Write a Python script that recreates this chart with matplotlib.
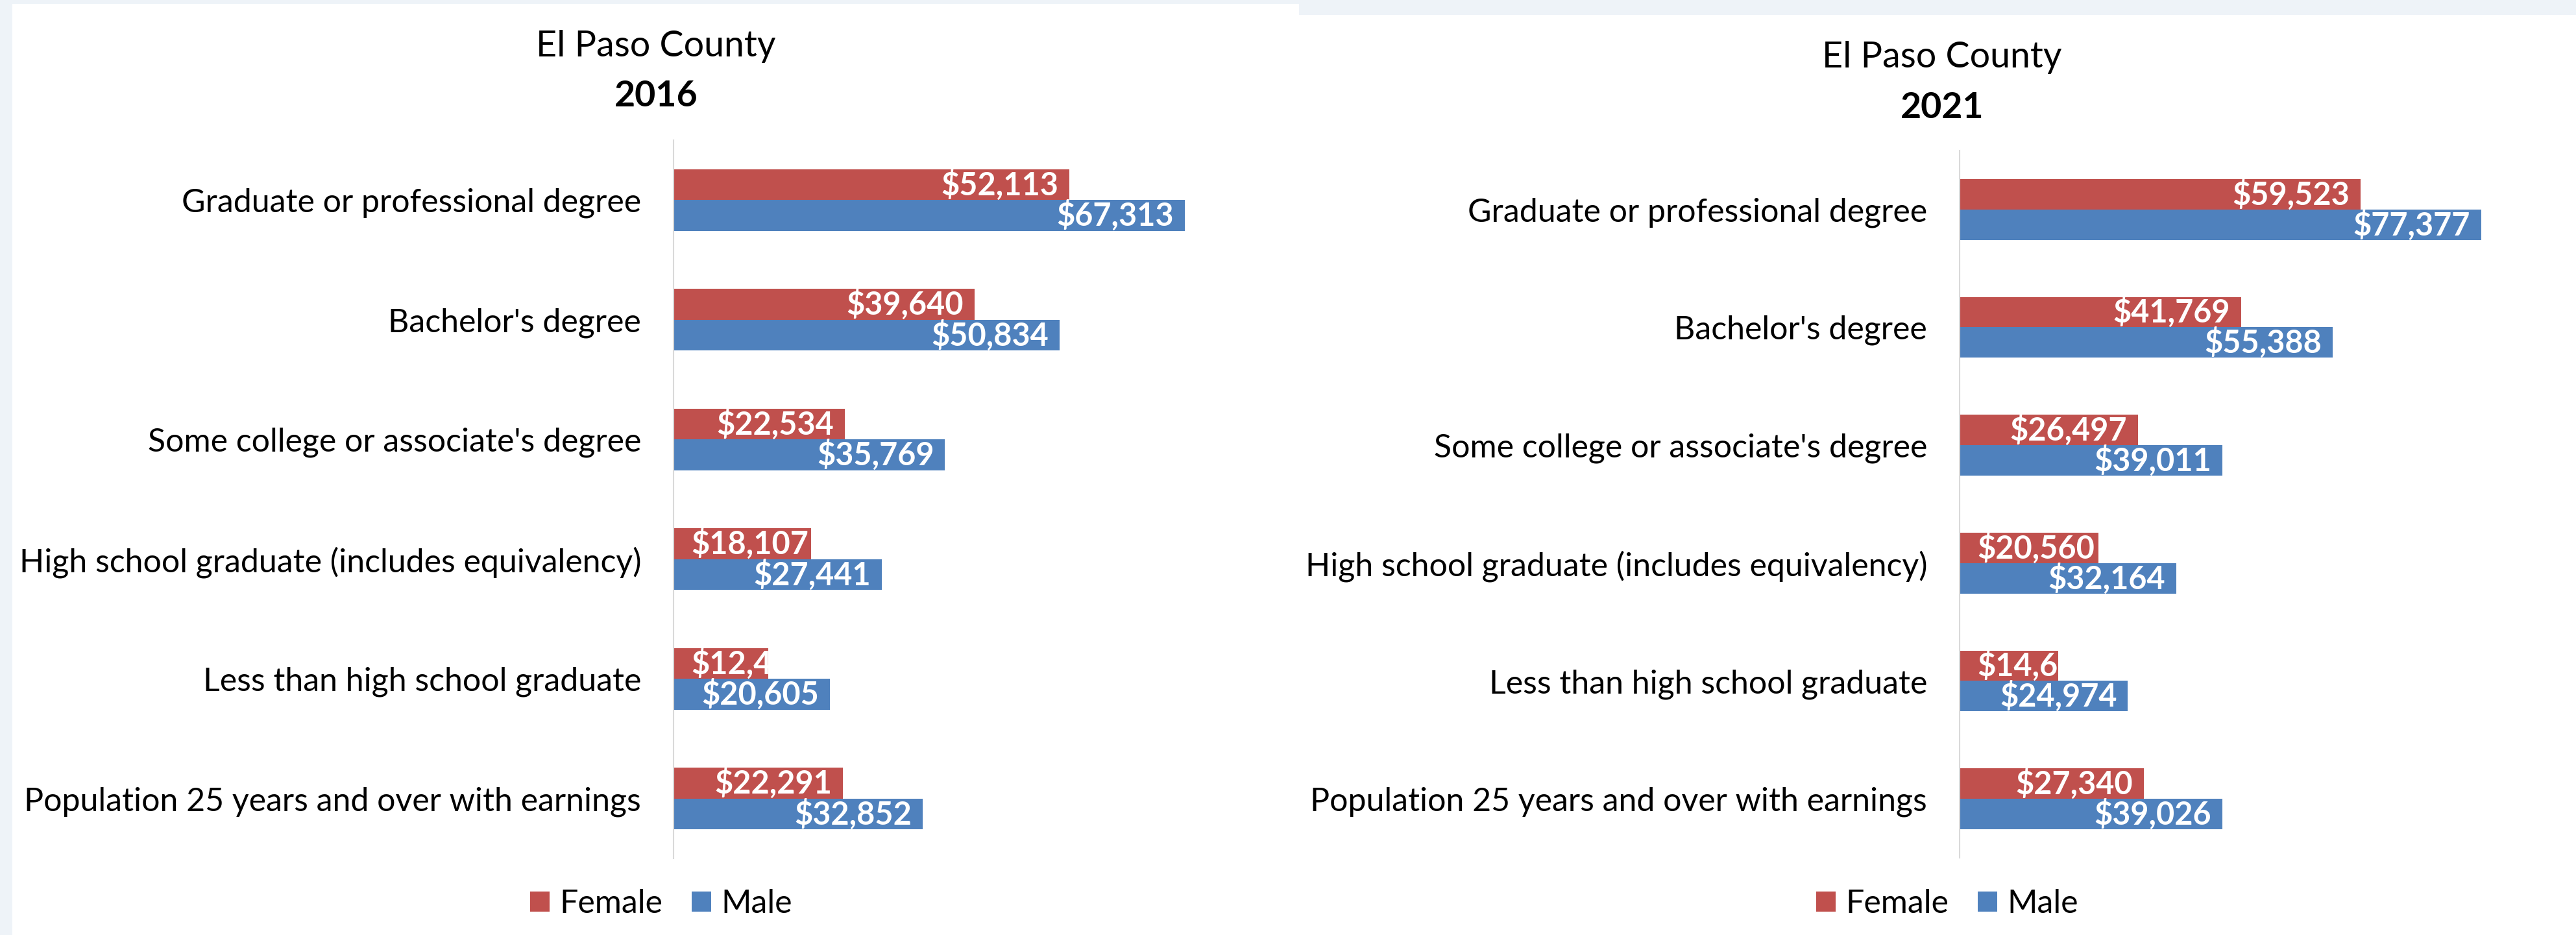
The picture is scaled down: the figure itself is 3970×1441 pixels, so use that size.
import numpy as np
import matplotlib
matplotlib.use("Agg")
import matplotlib.pyplot as plt
from matplotlib.patches import Rectangle
from matplotlib.transforms import offset_copy

plt.rcParams['font.family'] = ['Lato', 'DejaVu Sans']

# Data
categories = [
    "Graduate or professional degree",
    "Bachelor's degree",
    "Some college or associate's degree",
    "High school graduate (includes equivalency)",
    "Less than high school graduate",
    "Population 25 years and over with earnings",
]
female_2016 = [52113, 39640, 22534, 18107, 12468, 22291]
male_2016 = [67313, 50834, 35769, 27441, 20605, 32852]
female_2021 = [59523, 41769, 26497, 20560, 14620, 27340]
male_2021 = [77377, 55388, 39011, 32164, 24974, 39026]

RED = '#C0504D'
BLUE = '#4F81BD'
LABEL_FS = 36
VALUE_FS = 35
TITLE_FS = 40

W, H, DPI = 3970, 1441, 100
fig = plt.figure(figsize=(W / DPI, H / DPI), dpi=DPI, facecolor='#EEF3F8')


def px_box(x0, y0, x1, y1):
    # pixel box (top-left origin) -> figure fraction [left, bottom, width, height]
    return [x0 / W, 1 - y1 / H, (x1 - x0) / W, (y1 - y0) / H]


# white chart areas on the light page background
for x0, y0, x1, y1 in [(19, 6, 2002, H), (2002, 23, W, H)]:
    l, b, w, h = px_box(x0, y0, x1, y1)
    fig.add_artist(Rectangle((l, b), w, h, transform=fig.transFigure,
                             facecolor='white', edgecolor='none', zorder=-5))

renderer = fig.canvas.get_renderer()


def draw_panel(box, female, male, xmax, year, cx, title_base, year_base):
    ax = fig.add_axes(px_box(*box))
    ax.set_facecolor('none')
    y = np.arange(len(categories))
    h = 0.258
    fbars = ax.barh(y - h / 2, female, height=h, color=RED, label='Female')
    mbars = ax.barh(y + h / 2, male, height=h, color=BLUE, label='Male')
    ax.set_xlim(0, xmax)
    ax.set_ylim(len(categories) - 0.5, -0.5)
    ax.set_yticks(y, categories)
    ax.tick_params(axis='y', length=0, pad=36, labelsize=LABEL_FS)
    ax.set_xticks([])
    for s in ['top', 'right', 'bottom']:
        ax.spines[s].set_visible(False)
    ax.spines['left'].set_color('#D9D9D9')
    ax.spines['left'].set_linewidth(1.5)

    px_per_unit = (box[2] - box[0]) / xmax
    right_tr = offset_copy(ax.transData, fig=fig, x=-17, y=0, units='dots')
    left_tr = offset_copy(ax.transData, fig=fig, x=27, y=0, units='dots')
    for bars, vals in [(fbars, female), (mbars, male)]:
        for bar, v in zip(bars, vals):
            yc = bar.get_y() + bar.get_height() / 2
            t = ax.text(v, yc, f"${v:,}", transform=right_tr, ha='right', va='center',
                        color='white', fontweight='bold', fontsize=VALUE_FS)
            tw = t.get_window_extent(renderer).width
            if tw + 34 > v * px_per_unit:
                # label does not fit: start it at the bar base, cut off at bar end
                t.set_transform(left_tr)
                t.set_x(0)
                t.set_ha('left')
            t.set_clip_path(bar)

    fig.text(cx / W, 1 - title_base / H, 'El Paso County', ha='center', va='baseline',
             fontsize=TITLE_FS)
    fig.text(cx / W, 1 - year_base / H, year, ha='center', va='baseline',
             fontsize=TITLE_FS, fontweight='bold')

    ax.legend(loc='center', bbox_to_anchor=((cx + 8) / W, 1 - 1393 / H),
              bbox_transform=fig.transFigure, ncol=2, frameon=False,
              fontsize=LABEL_FS, handlelength=0.6, handleheight=0.6,
              handletextpad=0.3, columnspacing=0.9)
    return ax


draw_panel((1038, 216, 1974, 1323), female_2016, male_2016, 80000, '2016', 1011, 87, 164)
draw_panel((3020, 232, 3955, 1322), female_2021, male_2021, 90000, '2021', 2993, 104, 182)

fig.savefig('out.png', dpi=DPI, facecolor=fig.get_facecolor())
